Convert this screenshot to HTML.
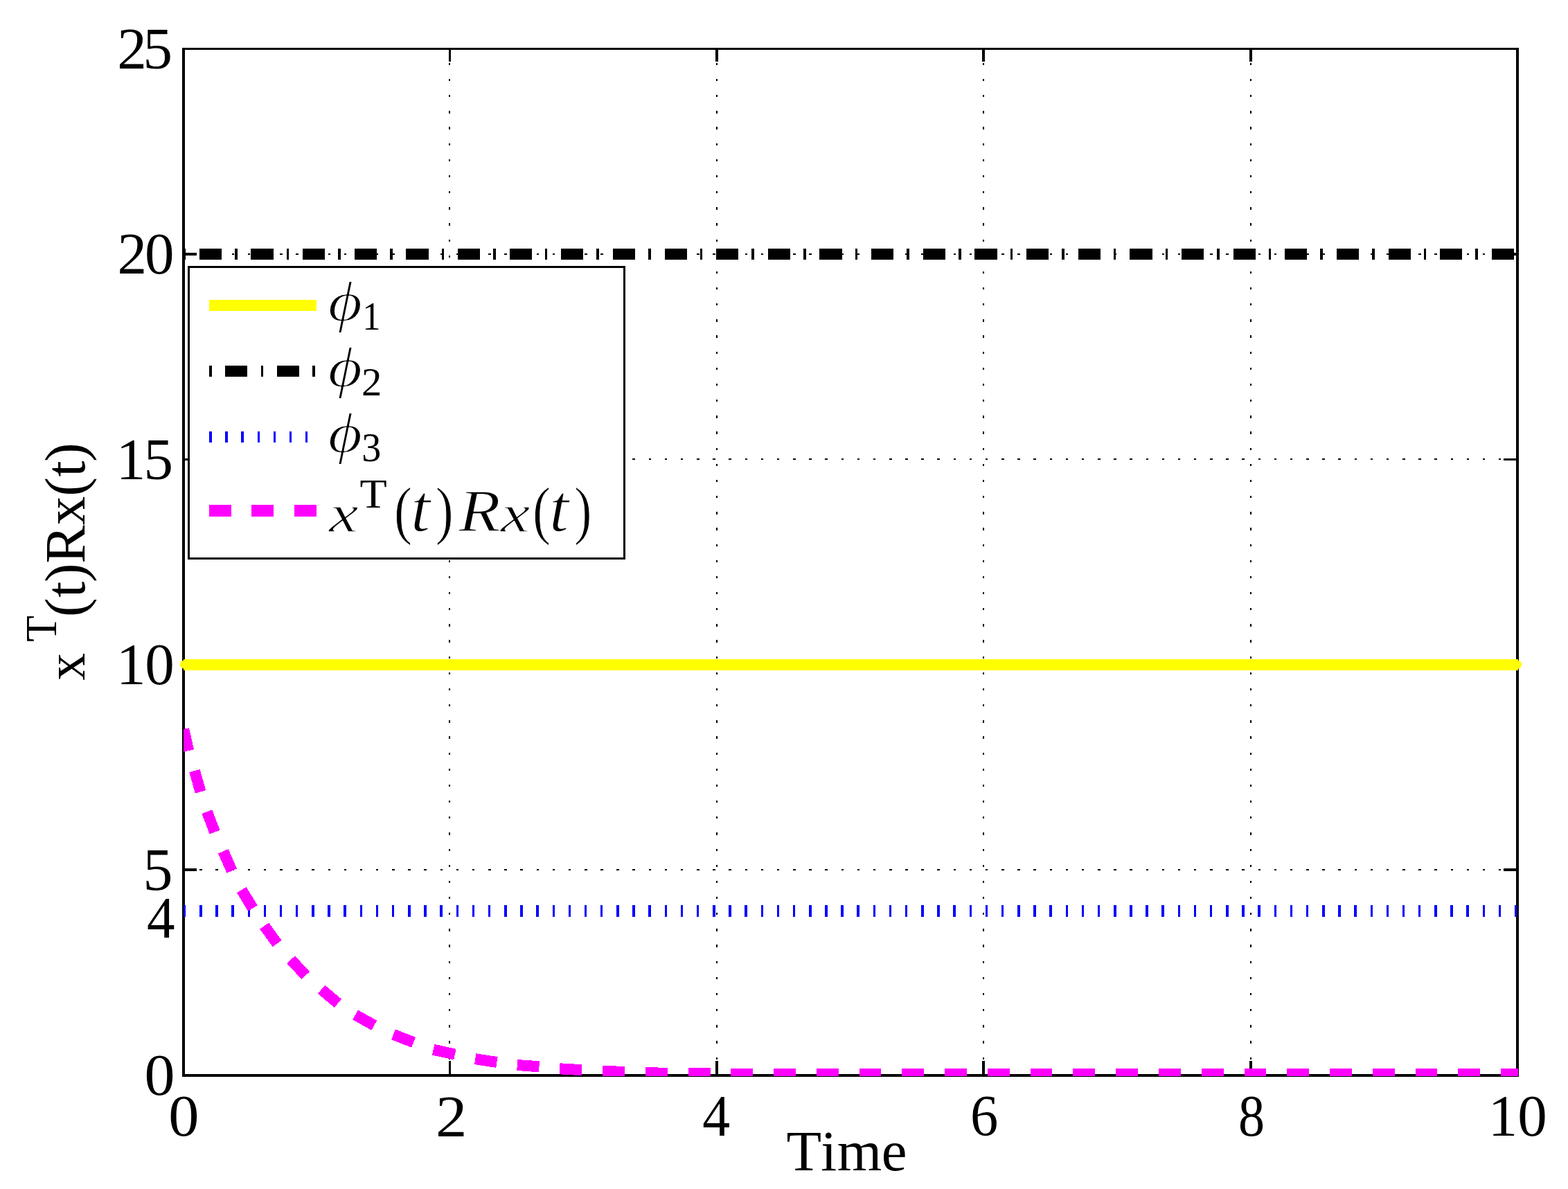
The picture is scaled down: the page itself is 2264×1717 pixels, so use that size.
<!DOCTYPE html>
<html lang="en"><head><meta charset="utf-8"><title>x^T(t)Rx(t) versus Time</title>
<style>html,body{margin:0;padding:0;background:#fff}body{width:2264px;height:1717px;overflow:hidden}svg{display:block}text{font-family:"Liberation Serif","DejaVu Serif",serif;fill:#000}.it{font-style:italic}</style></head><body>
<svg width="2264" height="1717" viewBox="0 0 2264 1717" role="img" aria-label="Plot of x transpose R x versus time with bounds phi 1, phi 2 and phi 3">
<rect x="0" y="0" width="2264" height="1717" fill="#fff"/>
<defs><clipPath id="ax"><rect x="265" y="0" width="1927" height="1554"/></clipPath></defs>
<g id="grid" stroke="#000" stroke-width="2.00" fill="none" shape-rendering="crispEdges">
<line x1="649" y1="1553.00" x2="649" y2="70.40" stroke-dasharray="3.300 19.857"/>
<line x1="1035" y1="1553.00" x2="1035" y2="70.40" stroke-dasharray="3.300 19.857"/>
<line x1="1420" y1="1553.00" x2="1420" y2="70.40" stroke-dasharray="3.300 19.857"/>
<line x1="1806" y1="1553.00" x2="1806" y2="70.40" stroke-dasharray="3.300 19.857"/>
<line x1="265.10" y1="1256.45" x2="2191.00" y2="1256.45" stroke-dasharray="3.500 19.657"/>
<line x1="265.10" y1="959.90" x2="2191.00" y2="959.90" stroke-dasharray="3.500 19.657"/>
<line x1="265.10" y1="663.35" x2="2191.00" y2="663.35" stroke-dasharray="3.500 19.657"/>
<line x1="265.10" y1="366.80" x2="2191.00" y2="366.80" stroke-dasharray="3.500 19.657"/>
</g>
<g id="axes" fill="#000" shape-rendering="crispEdges">
<rect x="263" y="69" width="4" height="1486"/>
<rect x="2189" y="69" width="4" height="1486"/>
<rect x="263" y="69" width="1930" height="3"/>
<rect x="263" y="1551" width="1930" height="4"/>
<rect x="648" y="1532" width="3" height="20"/>
<rect x="648" y="70" width="3" height="19"/>
<rect x="1033" y="1532" width="4" height="20"/>
<rect x="1033" y="70" width="4" height="19"/>
<rect x="1418" y="1532" width="4" height="20"/>
<rect x="1418" y="70" width="4" height="19"/>
<rect x="1804" y="1532" width="4" height="20"/>
<rect x="1804" y="70" width="4" height="19"/>
<rect x="265" y="1254" width="19" height="4"/>
<rect x="2171" y="1254" width="19" height="4"/>
<rect x="265" y="958" width="19" height="4"/>
<rect x="2171" y="958" width="19" height="4"/>
<rect x="265" y="662" width="19" height="3"/>
<rect x="2171" y="662" width="19" height="3"/>
<rect x="265" y="365" width="19" height="4"/>
<rect x="2171" y="365" width="19" height="4"/>
</g>
<g id="lines" fill="none" clip-path="url(#ax)" shape-rendering="crispEdges">
<line x1="263.1" y1="959.9" x2="2193.0" y2="959.9" stroke="#ff0" stroke-width="16"/>
<line x1="265.10" y1="366.80" x2="2193.00" y2="366.80" stroke="#000" stroke-width="16" stroke-dasharray="32.2 19 3.6 19.84" stroke-dashoffset="51.94"/>
<line x1="264.90" y1="1315.40" x2="2193.00" y2="1315.40" stroke="#00f" stroke-width="16.6" stroke-dasharray="3.5 19.657"/>
</g>
<g id="curve" stroke="#f0f" stroke-width="16" fill="none" clip-path="url(#ax)" shape-rendering="crispEdges">
<line x1="265.20" y1="1053.00" x2="272.20" y2="1084.10"/>
<line x1="280.90" y1="1113.10" x2="289.50" y2="1143.40"/>
<line x1="298.90" y1="1172.20" x2="310.05" y2="1201.60"/>
<line x1="322.30" y1="1229.30" x2="334.75" y2="1257.60"/>
<line x1="348.85" y1="1285.00" x2="364.90" y2="1311.60"/>
<line x1="381.70" y1="1337.00" x2="400.05" y2="1362.60"/>
<line x1="420.10" y1="1385.70" x2="441.20" y2="1408.60"/>
<line x1="464.10" y1="1428.80" x2="487.95" y2="1448.90"/>
<line x1="513.00" y1="1465.50" x2="540.20" y2="1480.70"/>
<line x1="568.00" y1="1493.80" x2="597.10" y2="1505.30"/>
<line x1="625.60" y1="1515.70" x2="656.90" y2="1522.60"/>
<line x1="686.20" y1="1529.20" x2="717.40" y2="1534.00"/>
<line x1="746.80" y1="1538.00" x2="778.50" y2="1540.30"/>
<line x1="808.10" y1="1543.30" x2="840.00" y2="1545.20"/>
<line x1="870.20" y1="1546.90" x2="902.10" y2="1547.90"/>
<line x1="932.20" y1="1549.00" x2="964.10" y2="1549.90"/>
<line x1="994.00" y1="1550.00" x2="1025.80" y2="1550.30"/>
<line x1="1055.3" y1="1551.1" x2="2200" y2="1551.1" stroke-dasharray="31.8 29.97" shape-rendering="crispEdges"/>
</g>
<circle cx="265.8" cy="959.5" r="6" fill="#ff0"/>
<circle cx="2191.2" cy="959.7" r="6" fill="#ff0"/>
<g id="ticklabels">
<text x="169.23 206.59" y="99.00" font-size="85.00">25</text>
<text x="169.48 209.05" y="395.30" font-size="85.00">20</text>
<text x="167.72 207.54" y="692.00" font-size="85.00">15</text>
<text x="167.92 209.15" y="988.40" font-size="85.00">10</text>
<text transform="translate(206.51 1285.26) scale(0.9927 1)" font-size="86.52">5</text>
<text transform="translate(212.02 1353.90) scale(0.9499 1)" font-size="85.38">4</text>
<text transform="translate(208.55 1581.28) scale(1.0419 1)" font-size="84.47">0</text>
<text transform="translate(243.33 1640.28) scale(1.0475 1)" font-size="84.47">0</text>
<text transform="translate(628.91 1640.50) scale(1.0697 1)" font-size="84.88">2</text>
<text transform="translate(1014.34 1639.80) scale(0.9398 1)" font-size="84.93">4</text>
<text transform="translate(1400.94 1640.27) scale(0.9491 1)" font-size="84.84">6</text>
<text transform="translate(1787.90 1640.17) scale(0.9006 1)" font-size="84.62">8</text>
<text x="2148.77 2191.30" y="1640.40" font-size="85.00">10</text>
</g>
<g id="xlabel">
<text x="1135.60 1185.32 1208.78 1272.84" y="1690.20" font-size="82.80">Time</text>
</g>
<text id="ylabel" transform="rotate(-90)"><tspan x="-982.49" y="122.00" font-size="81.05" textLength="39.46" lengthAdjust="spacingAndGlyphs">x</tspan><tspan x="-926.82" y="81.25" font-size="63.15" textLength="37.85" lengthAdjust="spacingAndGlyphs">T</tspan><tspan x="-890.91 -862.64 -841.03 -813.76 -758.16 -716.71 -688.49 -666.88" y="122.00" font-size="83.00">(t)Rx(t)</tspan></text>
<g id="legend">
<rect x="271" y="384" width="632" height="424" fill="#000" shape-rendering="crispEdges"/>
<rect x="274" y="387" width="626" height="418" fill="#fff" shape-rendering="crispEdges"/>
<g fill="none" shape-rendering="crispEdges">
<line x1="302.1" y1="441" x2="456.9" y2="441" stroke="#ff0" stroke-width="16"/>
<line x1="302.1" y1="536" x2="456.9" y2="536" stroke="#000" stroke-width="16" stroke-dasharray="3.5 19.4 32.2 19.54"/>
<line x1="302.1" y1="631.2" x2="456.9" y2="631.2" stroke="#00f" stroke-width="16.2" stroke-dasharray="3.4 19.757"/>
<line x1="302.1" y1="737.5" x2="456.9" y2="737.5" stroke="#f0f" stroke-width="17" stroke-dasharray="32 28.9 32 30.1 32 100"/>
</g>
<text><tspan class="it" x="473.59" y="463.13" font-size="83.49" textLength="49.76" lengthAdjust="spacingAndGlyphs" stroke="#fff" stroke-width="1.80" stroke-linejoin="round">ϕ</tspan><tspan x="523.18" y="475.90" font-size="57.56" textLength="26.27" lengthAdjust="spacingAndGlyphs">1</tspan></text>
<text><tspan class="it" x="473.59" y="558.13" font-size="83.49" textLength="49.76" lengthAdjust="spacingAndGlyphs" stroke="#fff" stroke-width="1.80" stroke-linejoin="round">ϕ</tspan><tspan x="522.12" y="571.00" font-size="57.54" textLength="29.31" lengthAdjust="spacingAndGlyphs">2</tspan></text>
<text><tspan class="it" x="473.59" y="652.93" font-size="83.49" textLength="49.76" lengthAdjust="spacingAndGlyphs" stroke="#fff" stroke-width="1.80" stroke-linejoin="round">ϕ</tspan><tspan x="522.31" y="666.43" font-size="58.49" textLength="28.08" lengthAdjust="spacingAndGlyphs">3</tspan></text>
<text><tspan class="it" x="474.97" y="768.40" font-size="78.00" textLength="42.53" lengthAdjust="spacingAndGlyphs" stroke="#fff" stroke-width="1.40" stroke-linejoin="round">x</tspan><tspan x="519.44" y="733.30" font-size="59.87" textLength="39.23" lengthAdjust="spacingAndGlyphs">T</tspan><tspan x="569.08" y="767.66" font-size="93.19" textLength="25.93" lengthAdjust="spacingAndGlyphs" stroke="#fff" stroke-width="1.00" stroke-linejoin="round">(</tspan><tspan class="it" x="593.13" y="767.06" font-size="96.38" textLength="28.23" lengthAdjust="spacingAndGlyphs" stroke="#fff" stroke-width="1.40" stroke-linejoin="round">t</tspan><tspan x="628.79" y="767.66" font-size="93.19" textLength="25.93" lengthAdjust="spacingAndGlyphs" stroke="#fff" stroke-width="1.00" stroke-linejoin="round">)</tspan><tspan class="it" x="662.33" y="767.10" font-size="87.20" textLength="60.41" lengthAdjust="spacingAndGlyphs" stroke="#fff" stroke-width="1.40" stroke-linejoin="round">R</tspan><tspan class="it" x="722.67" y="768.40" font-size="78.00" textLength="42.53" lengthAdjust="spacingAndGlyphs" stroke="#fff" stroke-width="1.40" stroke-linejoin="round">x</tspan><tspan x="768.88" y="767.66" font-size="93.19" textLength="25.93" lengthAdjust="spacingAndGlyphs" stroke="#fff" stroke-width="1.00" stroke-linejoin="round">(</tspan><tspan class="it" x="793.03" y="767.06" font-size="96.38" textLength="28.23" lengthAdjust="spacingAndGlyphs" stroke="#fff" stroke-width="1.40" stroke-linejoin="round">t</tspan><tspan x="829.27" y="767.66" font-size="93.19" textLength="25.15" lengthAdjust="spacingAndGlyphs" stroke="#fff" stroke-width="1.00" stroke-linejoin="round">)</tspan></text>
</g>
</svg></body></html>
